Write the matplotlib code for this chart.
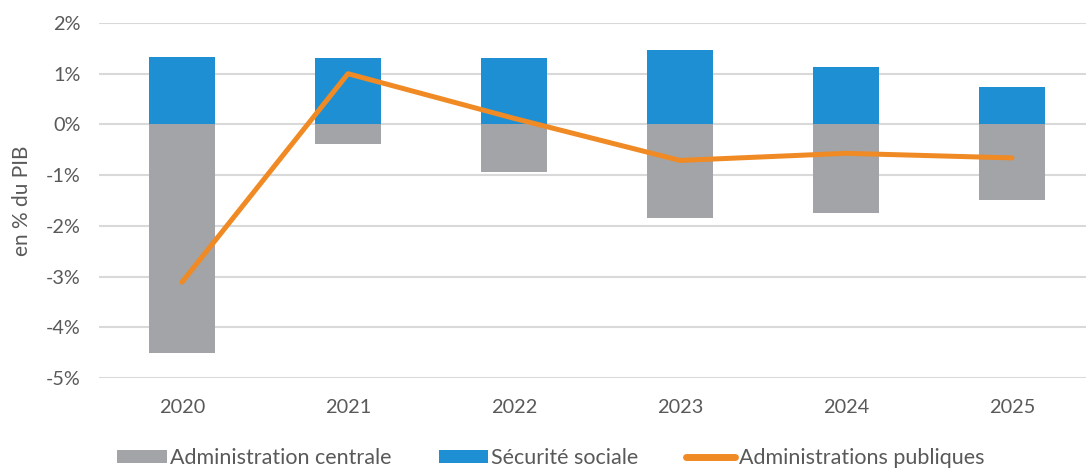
import matplotlib
matplotlib.use("Agg")
import matplotlib.pyplot as plt
import numpy as np

years = ["2020", "2021", "2022", "2023", "2024", "2025"]
admin_centrale = [-4.50, -0.39, -0.93, -1.85, -1.74, -1.49]
securite_sociale = [1.32, 1.31, 1.31, 1.47, 1.14, 0.74]
admin_publiques = [-3.11, 1.00, 0.12, -0.71, -0.57, -0.66]
yticks = [2, 1, 0, -1, -2, -3, -4, -5]

plt.rcParams['font.family'] = ['Lato', 'DejaVu Sans']

fig = plt.figure(figsize=(10.86, 4.68), dpi=100)
ax = fig.add_axes([99/1086, 1-378/468, 1-99/1086, (378-23)/468])

x = np.arange(len(years))
w = 0.4
grey = "#A2A4A7"
blue = "#1E8FD2"
orange = "#F08A24"
txt = "#595959"

b1 = ax.bar(x, admin_centrale, width=w, color=grey, zorder=2, label="Administration centrale")
b2 = ax.bar(x, securite_sociale, width=w, color=blue, zorder=2, label="Sécurité sociale")
l1, = ax.plot(x, admin_publiques, color=orange, lw=3.6, zorder=3, label="Administrations publiques",
              solid_capstyle='round')

ax.set_ylim(-5, 2)
ax.set_xlim(-0.5, 5.446)
ax.set_yticks(yticks)
ax.set_yticklabels([f"{v}%" for v in yticks])
ax.set_xticks(x)
ax.set_xticklabels(years)
ax.yaxis.grid(True, color="#D9D9D9", lw=1.5, zorder=0)
ax.set_axisbelow(True)
for s in ax.spines.values():
    s.set_visible(False)
ax.tick_params(axis='both', length=0, labelsize=14.3, colors=txt)
ax.tick_params(axis='x', pad=15)
ax.tick_params(axis='y', pad=13)
ax.set_ylabel("en % du PIB", fontsize=15, color=txt, labelpad=10)

leg = fig.legend([b1, b2, l1], ["Administration centrale", "Sécurité sociale", "Administrations publiques"],
                 loc='center', bbox_to_anchor=(0.507, 0.022), ncol=3, frameon=False,
                 fontsize=15.5, handlelength=2.3, handletextpad=0.15, columnspacing=2.2,
                 handleheight=0.55, labelcolor=txt)
leg.get_lines()[0].set_linewidth(5)

fig.savefig("out.png", dpi=100)
